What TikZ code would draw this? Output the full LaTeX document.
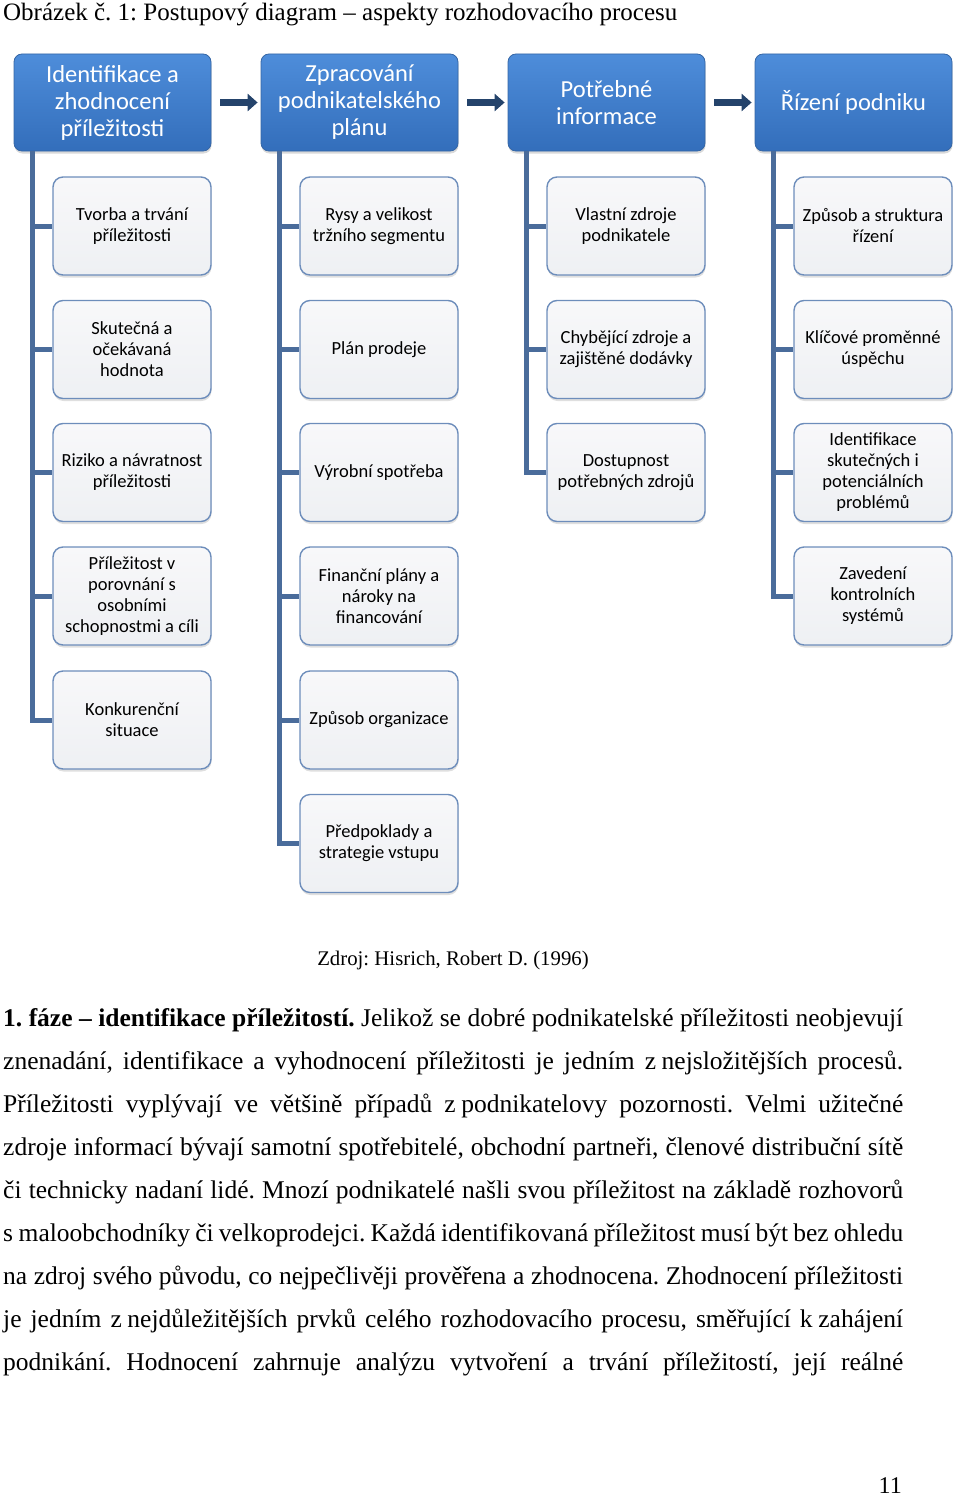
\documentclass[tikz,border=0pt]{standalone}
\usepackage{fontspec}
\setmainfont{Liberation Serif}
\newfontfamily\calfont{Carlito}
\usetikzlibrary{shadows,arrows.meta}
\frenchspacing
\definecolor{hdrtop}{HTML}{4E8DDA}
\definecolor{hdrbot}{HTML}{336EBB}
\definecolor{hdrborder}{HTML}{3566A5}
\definecolor{linecol}{HTML}{4A6C9B}
\definecolor{arrowcol}{HTML}{24436B}
\definecolor{childborder}{HTML}{6D8DBB}
\definecolor{childtop}{HTML}{F8F8FA}
\definecolor{childbot}{HTML}{EEF0F3}
\tikzset{
  hdr/.style={rounded corners=8pt, minimum width=197pt, minimum height=97pt,
    top color=hdrtop, bottom color=hdrbot, draw=hdrborder, line width=0.8pt,
    text=white, align=center, inner sep=2pt,
    font=\calfont\fontsize{24.5}{27}\selectfont,
    drop shadow={opacity=0.3, shadow xshift=0.5pt, shadow yshift=-2.5pt}},
  child/.style={rounded corners=10pt, minimum width=158pt, minimum height=98pt,
    top color=childtop, bottom color=childbot, draw=childborder, line width=1.4pt,
    text=black, align=center, inner sep=2pt,
    font=\calfont\fontsize{18.5}{21}\selectfont,
    drop shadow={opacity=0.25, shadow xshift=0.5pt, shadow yshift=-2.5pt}},
  conn/.style={draw=linecol, line width=5pt},
  hdrarrow/.style={draw=arrowcol, line width=7pt, -{Triangle[length=10pt,width=17pt]},
    shorten <=9pt, shorten >=3pt},
  bodyline/.style={anchor=base west, inner sep=0pt, font=\fontsize{25.5}{30}\selectfont},
}
\newcommand{\tsp}{\hspace{0.22em}}
\begin{document}
\begin{tikzpicture}[x=1pt,y=-1pt]
\useasboundingbox (0,0) rectangle (960,1496);
% title
\node[anchor=base west, inner sep=0pt, font=\fontsize{25}{30}\selectfont] (title) at (3,21)
  {Obrázek č. 1: Postupový diagram – aspekty rozhodovacího procesu};
% headers
\node[hdr] (h1) at (112.5,102.5) {Identifikace a\\zhodnocení\\příležitosti};
\node[hdr] (h2) at (359.5,102.5) {Zpracování\\podnikatelského\\plánu};
\node[hdr] (h3) at (606.5,102.5) {Potřebné\\informace};
\node[hdr] (h4) at (853.5,102.5) {Řízení podniku};
\draw[hdrarrow] (h1.east) -- (h2.west);
\draw[hdrarrow] (h2.east) -- (h3.west);
\draw[hdrarrow] (h3.east) -- (h4.west);
% column 1
\node[child] (c1a) at (132,226) {Tvorba a trvání\\příležitosti};
\node[child] (c1b) at (132,349.5) {Skutečná a\\očekávaná\\hodnota};
\node[child] (c1c) at (132,472.5) {Riziko a návratnost\\příležitosti};
\node[child] (c1d) at (132,596) {Příležitost v\\porovnání s\\osobními\\schopnostmi a cíli};
\node[child] (c1e) at (132,720) {Konkurenční\\situace};
% column 2
\node[child] (c2a) at (379,226) {Rysy a velikost\\tržního segmentu};
\node[child] (c2b) at (379,349.5) {Plán prodeje};
\node[child] (c2c) at (379,472.5) {Výrobní spotřeba};
\node[child] (c2d) at (379,596) {Finanční plány a\\nároky na\\financování};
\node[child] (c2e) at (379,720) {Způsob organizace};
\node[child] (c2f) at (379,843.5) {Předpoklady a\\strategie vstupu};
% column 3
\node[child] (c3a) at (626,226) {Vlastní zdroje\\podnikatele};
\node[child] (c3b) at (626,349.5) {Chybějící zdroje a\\zajištěné dodávky};
\node[child] (c3c) at (626,472.5) {Dostupnost\\potřebných zdrojů};
% column 4
\node[child] (c4a) at (873,226) {Způsob a struktura\\řízení};
\node[child] (c4b) at (873,349.5) {Klíčové proměnné\\úspěchu};
\node[child] (c4c) at (873,472.5) {Identifikace\\skutečných i\\potenciálních\\problémů};
\node[child] (c4d) at (873,596) {Zavedení\\kontrolních\\systémů};
% connectors
\coordinate (t1) at ([xshift=19pt]h1.south west);
\coordinate (t2) at ([xshift=19pt]h2.south west);
\coordinate (t3) at ([xshift=19pt]h3.south west);
\coordinate (t4) at ([xshift=19pt]h4.south west);
\draw[conn] (t1) |- (c1e.west);
\foreach \c in {c1a,c1b,c1c,c1d} \draw[conn] (t1 |- \c.west) -- (\c.west);
\draw[conn] (t2) |- (c2f.west);
\foreach \c in {c2a,c2b,c2c,c2d,c2e} \draw[conn] (t2 |- \c.west) -- (\c.west);
\draw[conn] (t3) |- (c3c.west);
\foreach \c in {c3a,c3b} \draw[conn] (t3 |- \c.west) -- (\c.west);
\draw[conn] (t4) |- (c4d.west);
\foreach \c in {c4a,c4b,c4c} \draw[conn] (t4 |- \c.west) -- (\c.west);
% caption
\node[anchor=base, inner sep=0pt, font=\fontsize{20.8}{25}\selectfont] (src) at (453,965)
  {Zdroj: Hisrich, Robert D. (1996)};
% body text
\node[bodyline] (l1) at (3,1026) {\makebox[900pt][s]{\textbf{1. fáze – identifikace příležitostí.} Jelikož se dobré podnikatelské příležitosti neobjevují}};
\node[bodyline] (l2) at (3,1069) {\makebox[900pt][s]{znenadání, identifikace a vyhodnocení příležitosti je jedním z\tsp nejsložitějších procesů.}};
\node[bodyline] (l3) at (3,1112) {\makebox[900pt][s]{Příležitosti vyplývají ve většině případů z\tsp podnikatelovy pozornosti. Velmi užitečné}};
\node[bodyline] (l4) at (3,1155) {\makebox[900pt][s]{zdroje informací bývají samotní spotřebitelé, obchodní partneři, členové distribuční sítě}};
\node[bodyline] (l5) at (3,1198) {\makebox[900pt][s]{či technicky nadaní lidé. Mnozí podnikatelé našli svou příležitost na základě rozhovorů}};
\node[bodyline] (l6) at (3,1241) {\makebox[900pt][s]{s\tsp maloobchodníky či velkoprodejci. Každá identifikovaná příležitost musí být bez ohledu}};
\node[bodyline] (l7) at (3,1284) {\makebox[900pt][s]{na zdroj svého původu, co nejpečlivěji prověřena a zhodnocena. Zhodnocení příležitosti}};
\node[bodyline] (l8) at (3,1327) {\makebox[900pt][s]{je jedním z\tsp nejdůležitějších prvků celého rozhodovacího procesu, směřující k\tsp zahájení}};
\node[bodyline] (l9) at (3,1370) {\makebox[900pt][s]{podnikání. Hodnocení zahrnuje analýzu vytvoření a trvání příležitostí, její reálné}};
% page number
\node[anchor=base east, inner sep=0pt, font=\fontsize{24}{28}\selectfont] (pg) at (902,1493) {11};
\end{tikzpicture}
\end{document}
